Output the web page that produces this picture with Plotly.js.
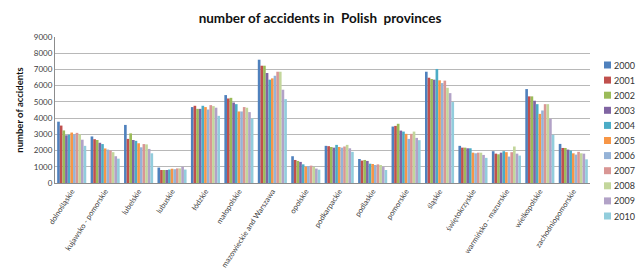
<!DOCTYPE html>
<html>
<head>
<meta charset="utf-8">
<script src="https://cdn.plot.ly/plotly-3.0.1.min.js"></script>
<style>html,body{margin:0;padding:0;background:#fff;}#chart{width:640px;height:274px;}</style>
</head>
<body>
<div id="chart"></div>
<script>
const provinces = ["dolnośląskie","kujawsko - pomorskie","lubelskie","lubuskie","łódzkie","małopolskie","mazowieckie and Warszawa","opolskie","podkarpackie","podlaskie","pomorskie","śląskie","świętokrzyskie","warmińsko - mazurskie","wielkopolskie","zachodniopomorskie"];
const years = ["2000","2001","2002","2003","2004","2005","2006","2007","2008","2009","2010"];
const colors = ["#4F81BD","#C0504D","#9BBB59","#8064A2","#4BACC6","#F79646","#95B3D7","#D99694","#C3D69B","#B2A2C7","#92CDDC"];

const y2000 = [3780,2870,3580,950,4680,5420,7600,1650,2290,1480,3480,6860,2290,1960,5790,2410];
const y2001 = [3540,2700,2720,800,4760,5210,7230,1420,2270,1380,3520,6490,2180,1810,5340,2160];
const y2002 = [3240,2650,3060,800,4570,5250,7230,1360,2220,1420,3650,6410,2180,1770,5340,2160];
const y2003 = [2940,2480,2650,800,4570,4960,6780,1300,2180,1360,3230,6370,2140,1870,5070,2060];
const y2004 = [2980,2400,2600,830,4760,4860,6370,1150,2350,1190,3170,7030,2140,1960,4860,2000];
const y2005 = [3110,2130,2450,880,4680,4410,6450,1010,2220,1170,3030,6330,1870,1900,4260,1830];
const y2006 = [3000,2060,2200,850,4530,4410,6610,1050,2180,1110,2720,6160,1830,1630,4470,1750];
const y2007 = [3090,2000,2400,900,4800,4680,6860,1070,2250,1150,3030,6310,1870,1900,4860,1920];
const y2008 = [3000,1900,2380,900,4740,4640,6860,990,2350,1110,3170,5870,1870,2250,4860,1830];
const y2009 = [2670,1650,2100,1000,4640,4370,5750,890,2140,990,2780,5540,1730,1810,3960,1810];
const y2010 = [2290,1500,1830,830,4140,3980,5170,820,1920,800,2640,4990,1550,1690,2970,1460];

const series = [y2000,y2001,y2002,y2003,y2004,y2005,y2006,y2007,y2008,y2009,y2010];

const data = series.map((vals, i) => ({
  type: "bar",
  name: years[i],
  x: provinces,
  y: vals,
  marker: {color: colors[i], line: {width: 0}},
  hoverinfo: "x+y+name"
}));

// Compact legend (Plotly's built-in legend enforces a taller row height than the reference)
const plotTop = 37, plotH = 146, plotL = 55, plotW = 535;
const legTop = 65, legStep = 15.1, legX = 604, sq = 7;
const toPy = px => (plotTop + plotH - px) / plotH;
const toPx = px => (px - plotL) / plotW;
const shapes = years.map((yr, i) => ({
  type: "rect", xref: "paper", yref: "paper",
  x0: toPx(legX), x1: toPx(legX + sq),
  y0: toPy(legTop + i * legStep + sq / 2), y1: toPy(legTop + i * legStep - sq / 2),
  fillcolor: colors[i], line: {width: 0}
}));
const annotations = years.map((yr, i) => ({
  xref: "paper", yref: "paper", x: toPx(legX + sq + 1), y: toPy(legTop + i * legStep),
  xanchor: "left", yanchor: "middle", showarrow: false, text: yr,
  font: {size: 9, color: "#333"}
}));

const layout = {
  width: 640, height: 274,
  margin: {l: 55, r: 50, t: 37, b: 91, pad: 0},
  paper_bgcolor: "#fff", plot_bgcolor: "#fff",
  font: {family: "Lato, 'Open Sans', sans-serif", color: "#404040", size: 8},
  title: {text: "<b>number of accidents in  Polish  provinces</b>", x: 0.5, xanchor: "center", y: 0.935, yanchor: "middle",
          font: {family: "Lato, 'Open Sans', sans-serif", size: 13.5, color: "#111"}},
  barmode: "group",
  bargap: 0.13,
  bargroupgap: 0,
  showlegend: false,
  shapes: shapes,
  annotations: annotations,
  xaxis: {
    type: "category",
    tickangle: -57,
    tickfont: {size: 7.5, color: "#404040"},
    showline: true, linecolor: "#8c8c8c", linewidth: 1,
    ticks: "", showgrid: false, automargin: false
  },
  yaxis: {
    range: [0, 9000],
    dtick: 1000,
    tickfont: {size: 8, color: "#404040"},
    showgrid: true, gridcolor: "#b8b8b8", gridwidth: 1,
    showline: true, linecolor: "#8c8c8c", linewidth: 1,
    ticks: "", ticklen: 4,
    zeroline: false,
    automargin: false,
    title: {text: "<b>number of accidents</b>", font: {size: 9.5, color: "#111"}, standoff: 8}
  }
};

Plotly.newPlot("chart", data, layout, {displayModeBar: false, staticPlot: true});
</script>
</body>
</html>
